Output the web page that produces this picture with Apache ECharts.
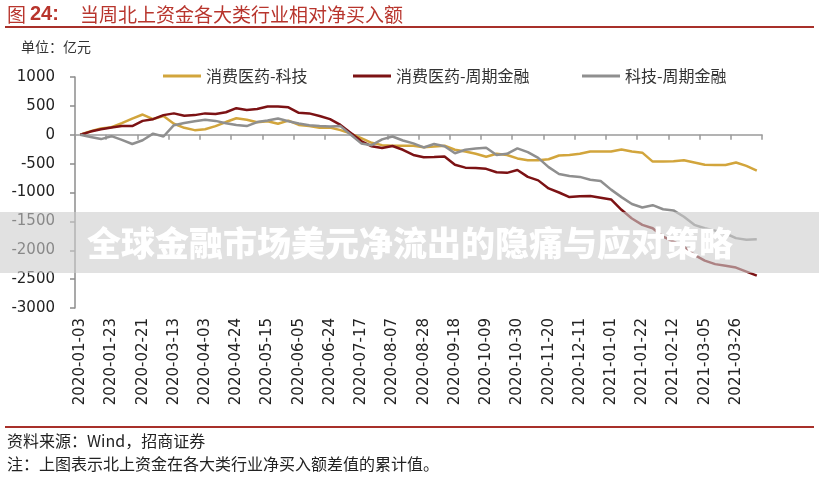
<!DOCTYPE html>
<html><head><meta charset="utf-8">
<script src="https://cdn.jsdelivr.net/npm/echarts@6/dist/echarts.min.js"></script>
<style>html,body{margin:0;padding:0;background:#fff}#c{width:819px;height:487px}</style>
</head><body><div id="c"></div>
<script>
const dates = [
 '2020-01-03','2020-01-10','2020-01-17','2020-01-23','2020-02-07','2020-02-14','2020-02-21','2020-02-28','2020-03-06','2020-03-13',
 '2020-03-20','2020-03-27','2020-04-03','2020-04-10','2020-04-17','2020-04-24','2020-04-30','2020-05-08','2020-05-15','2020-05-22',
 '2020-05-29','2020-06-05','2020-06-12','2020-06-19','2020-06-24','2020-07-03','2020-07-10','2020-07-17','2020-07-24','2020-07-31',
 '2020-08-07','2020-08-14','2020-08-21','2020-08-28','2020-09-04','2020-09-11','2020-09-18','2020-09-25','2020-09-30','2020-10-09',
 '2020-10-16','2020-10-23','2020-10-30','2020-11-06','2020-11-13','2020-11-20','2020-11-27','2020-12-04','2020-12-11','2020-12-18',
 '2020-12-25','2021-01-01','2021-01-08','2021-01-15','2021-01-22','2021-01-29','2021-02-05','2021-02-12','2021-02-19','2021-02-26',
 '2021-03-05','2021-03-12','2021-03-19','2021-03-26','2021-04-02','2021-04-09'
];
const seriesNames = ['消费医药-科技', '消费医药-周期金融', '科技-周期金融'];
const consumerMinusTech = [
 0,60,110,130,200,280,350,270,325,190,
 120,80,95,150,220,285,260,215,235,190,
 245,170,150,120,125,80,20,-60,-140,-180,
 -190,-190,-190,-215,-205,-190,-260,-290,-330,-380,
 -330,-350,-410,-440,-440,-425,-360,-350,-330,-290,
 -290,-290,-255,-290,-310,-465,-465,-460,-440,-480,
 -520,-525,-525,-480,-540,-620
];
const consumerMinusCyclical = [
 0,55,95,125,150,150,240,270,340,370,
 330,340,370,360,390,460,430,445,490,490,
 475,380,370,325,270,170,30,-110,-200,-230,
 -195,-260,-350,-390,-385,-375,-520,-570,-575,-590,
 -650,-660,-610,-730,-790,-930,-1000,-1080,-1065,-1060,
 -1090,-1120,-1300,-1450,-1560,-1620,-1765,-1850,-1940,-2080,
 -2180,-2240,-2270,-2300,-2370,-2440
];
const techMinusCyclical = [
 0,-40,-75,-25,-90,-160,-95,20,-30,165,
 205,235,260,240,200,170,150,220,245,280,
 235,195,165,150,145,150,0,-150,-180,-80,
 -30,-100,-150,-220,-160,-200,-320,-260,-240,-225,
 -350,-330,-235,-300,-400,-560,-680,-715,-730,-780,
 -800,-950,-1080,-1200,-1260,-1220,-1290,-1310,-1420,-1560,
 -1620,-1660,-1710,-1790,-1820,-1810
];
const colors = ['#d2a53c', '#7c1214', '#8f8f8f'];
const titleText = '当周北上资金各大类行业相对净买入额';
const unitText = '单位：亿元';
const sourceText = '资料来源：Wind，招商证券';
const noteText = '注：上图表示北上资金在各大类行业净买入额差值的累计值。';
const bannerText = '全球金融市场美元净流出的隐痛与应对策略';

const chart = echarts.init(document.getElementById('c'));
const cjk = '"Noto Sans CJK SC", sans-serif';
const num = '"DejaVu Sans", sans-serif';
const legendLefts = [158, 348, 577];
const dataSets = [consumerMinusTech, consumerMinusCyclical, techMinusCyclical];

chart.setOption({
  animation: false,
  backgroundColor: '#fff',
  grid: { left: 75, right: 57, top: 77, bottom: 179, containLabel: false },
  legend: seriesNames.map((n, i) => ({
    data: [n], left: legendLefts[i], top: 63, icon: 'rect',
    itemWidth: 38, itemHeight: 3, itemGap: 10,
    textStyle: { fontFamily: cjk, fontSize: 16, color: '#333' }
  })),
  xAxis: [{
    type: 'category', data: dates, boundaryGap: true, position: 'bottom',
    axisLine: { show: false, onZero: false }, axisTick: { show: false },
    axisLabel: { interval: 2, rotate: 90, margin: 10, fontFamily: num, fontSize: 15, color: '#222' },
    splitLine: { show: false }
  }, {
    type: 'category', data: dates, boundaryGap: true, position: 'bottom',
    axisLine: { show: true, onZero: true, lineStyle: { color: '#9a9a9a', width: 1.5 } },
    axisTick: { show: true, interval: 2, length: 5, lineStyle: { color: '#9a9a9a', width: 1.5 } },
    axisLabel: { show: false }, splitLine: { show: false }
  }],
  yAxis: {
    type: 'value', min: -3000, max: 1000, interval: 500,
    axisLine: { show: true, lineStyle: { color: '#8c8c8c', width: 1.5 } },
    axisTick: { show: true, length: 5, lineStyle: { color: '#8c8c8c', width: 1.5 } },
    axisLabel: { margin: 20, fontFamily: num, fontSize: 15, color: '#222', formatter: v => String(v) },
    splitLine: { show: false }
  },
  series: seriesNames.map((n, i) => ({
    name: n, type: 'line', data: dataSets[i], xAxisIndex: 0,
    symbol: 'none', color: colors[i],
    lineStyle: { width: 2.5, color: colors[i] }
  })),
  graphic: [
    { type: 'text', left: 7, top: 5, style: { text: '图', fontFamily: cjk, fontSize: 19, fill: '#b8352d' } },
    { type: 'text', left: 30, top: 4, style: { text: '24:', fontFamily: '"Liberation Sans", Arial', fontWeight: 'bold', fontSize: 20, fill: '#b8352d' } },
    { type: 'text', left: 80, top: 5, style: { text: titleText, fontFamily: cjk, fontSize: 19, fill: '#b8352d' } },
    { type: 'rect', shape: { x: 5, y: 26, width: 809, height: 2 }, style: { fill: '#a8302a' } },
    { type: 'text', left: 21, top: 40, style: { text: unitText, fontFamily: cjk, fontSize: 14, fill: '#333' } },
    { type: 'rect', shape: { x: 5, y: 426, width: 809, height: 2 }, style: { fill: '#a8302a' } },
    { type: 'text', left: 7, top: 433, style: { text: sourceText, fontFamily: cjk, fontSize: 16, fill: '#222' } },
    { type: 'text', left: 7, top: 456, style: { text: noteText, fontFamily: cjk, fontSize: 16, fill: '#222' } },
    { type: 'rect', z: 100, shape: { x: 0, y: 212, width: 819, height: 61 }, style: { fill: 'rgba(205,205,205,0.6)' } },
    { type: 'text', z: 101, x: 410, y: 243, style: { text: bannerText, fontFamily: cjk, fontWeight: 900, fontSize: 34, fill: '#ffffff', align: 'center', verticalAlign: 'middle' } }
  ]
});
</script>
</body></html>
